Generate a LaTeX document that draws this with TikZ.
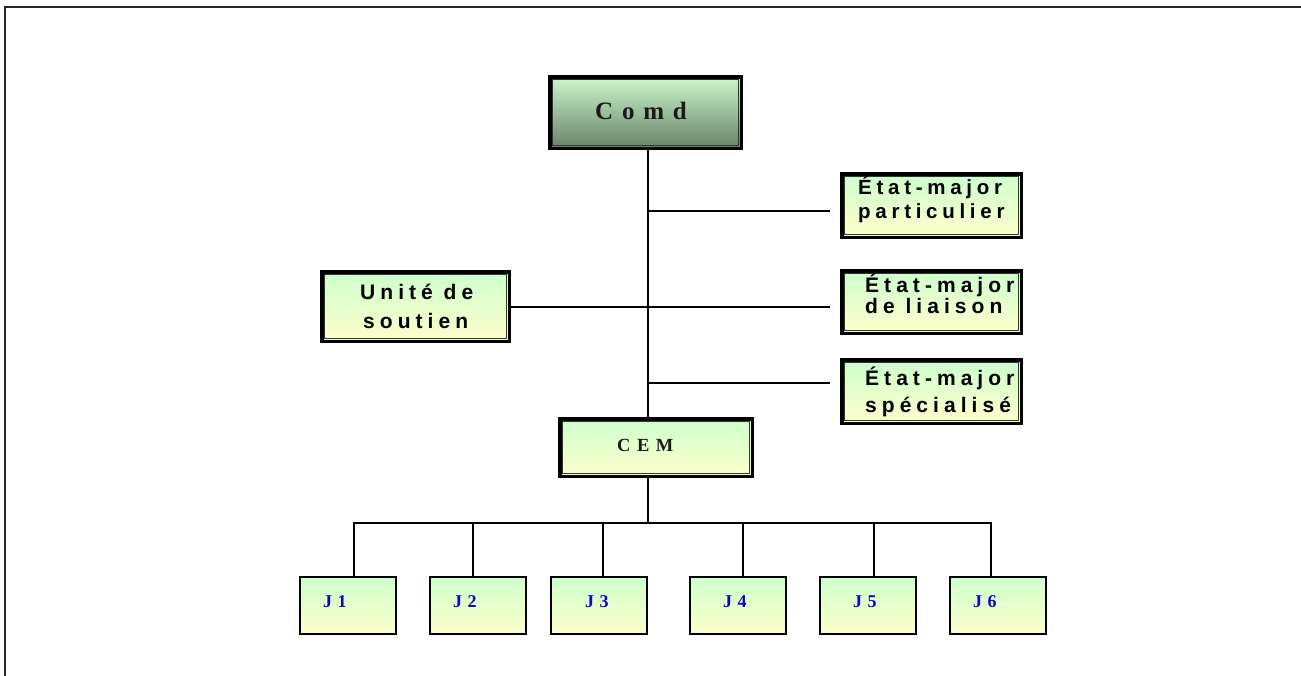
\documentclass[tikz,border=0pt]{standalone}
\usepackage{fontspec}
\setmainfont{Liberation Serif}
\newfontfamily\lblsans{Liberation Sans}[LetterSpace=24]
\newfontfamily\lblsanswide{Liberation Sans}[LetterSpace=23]
\newfontfamily\lblserif{Liberation Serif}[LetterSpace=35]
\newfontfamily\lblj{Liberation Serif}[LetterSpace=30]
\definecolor{boxtop}{RGB}{204,255,204}
\definecolor{boxbot}{RGB}{255,255,204}
\definecolor{cmdtop}{RGB}{204,248,204}
\definecolor{cmdbot}{RGB}{104,130,104}
\definecolor{jblue}{RGB}{8,8,200}
\begin{document}
\begin{tikzpicture}[x=1pt,y=-1pt,
  heavybox/.style={draw=black, line width=3.5pt, top color=boxtop, bottom color=boxbot, inner sep=0pt},
  cmdbox/.style={heavybox, top color=cmdtop, bottom color=cmdbot},
  jbox/.style={draw=black, line width=2pt, top color=boxtop, bottom color=boxbot, inner sep=0pt,
    minimum width=96, minimum height=57},
  inner/.style={draw=black!80, line width=0.9pt},
  link/.style={draw=black, line width=2pt},
  sanslbl/.style={anchor=base west, inner sep=0pt, font=\lblsans\bfseries\fontsize{21}{23}\selectfont},
  sanswide/.style={anchor=base west, inner sep=0pt, font=\lblsanswide\bfseries\fontsize{20.5}{22}\selectfont},
  seriflbl/.style={anchor=base west, inner sep=0pt, text=black!90},
  jlbl/.style={anchor=base west, inner sep=0pt, text=jblue, font=\lblj\bfseries\fontsize{18}{20}\selectfont}]
\useasboundingbox (0,0) rectangle (1301,675);

% page frame (top and left edges only)
\draw[black!85, line width=2.5pt] (5,676) -- (5,7) -- (1302,7);

% framed boxes
\node[cmdbox, minimum width=191.5, minimum height=71.5] (comd) at (645.5,112.5) {};
\node[heavybox, minimum width=179.5, minimum height=63.5] (emp) at (931.5,205.5) {};
\node[heavybox, minimum width=179.5, minimum height=62.5] (eml) at (931.5,302) {};
\node[heavybox, minimum width=179.5, minimum height=63.5] (ems) at (931.5,391.5) {};
\node[heavybox, minimum width=187.5, minimum height=69.5] (us) at (415.5,306.5) {};
\node[heavybox, minimum width=192.5, minimum height=57.5] (cem) at (656,447.5) {};

% thin inner rule of each framed box
\foreach \b in {comd,emp,eml,ems,us,cem}
  \draw[inner] ([shift={(4.5,4.5)}]\b.north west) rectangle ([shift={(-4.5,-4.5)}]\b.south east);

% staff sections
\node[jbox] (j1) at (348,605.5) {};
\node[jbox] (j2) at (478,605.5) {};
\node[jbox] (j3) at (598.5,605.5) {};
\node[jbox] (j4) at (738,605.5) {};
\node[jbox] (j5) at (868,605.5) {};
\node[jbox] (j6) at (998,605.5) {};

% labels
\node[seriflbl, font=\lblserif\bfseries\fontsize{25}{28}\selectfont] (tcomd) at (595,119) {Comd};
\node[seriflbl, font=\lblserif\bfseries\fontsize{18.5}{20}\selectfont] (tcem) at (617,451) {CEM};
\node[sanswide] (tempa) at (858,194) {État-major};
\node[sanswide] (tempb) at (858,218) {particulier};
\node[sanslbl] (temla) at (865,292) {État-major};
\node[sanslbl] (temlb) at (865,313) {de liaison};
\node[sanslbl] (temsa) at (865,385) {État-major};
\node[sanslbl] (temsb) at (865,412) {spécialisé};
\node[sanslbl] (tusa) at (360,299) {Unité de};
\node[sanslbl] (tusb) at (363,328) {soutien};
\node[jlbl] (tj1) at (323,607) {J1};
\node[jlbl] (tj2) at (453,607) {J2};
\node[jlbl] (tj3) at (585,607) {J3};
\node[jlbl] (tj4) at (723,607) {J4};
\node[jlbl] (tj5) at (853,607) {J5};
\node[jlbl] (tj6) at (973,607) {J6};

% connectors
\coordinate (trunk) at (648,0);
\coordinate (bus) at (0,523);
\coordinate (bp) at (0,211);
\coordinate (bs) at (0,383);
\draw[link] (comd.south -| trunk) -- (cem.north -| trunk);
\draw[link] (trunk |- bp) -- ([xshift=-10pt]emp.west |- bp);
\draw[link] (us.east) -- ([xshift=-10pt]eml.west |- us.east);
\draw[link] (trunk |- bs) -- ([xshift=-10pt]ems.west |- bs);
\draw[link] (cem.south -| trunk) -- (trunk |- bus);
\draw[link] (353,523) -- (992,523);
\foreach \j/\x in {j1/354,j2/473,j3/603,j4/743,j5/874,j6/991}
  \draw[link] (\x,523) -- (\x,0 |- \j.north);
\end{tikzpicture}
\end{document}
